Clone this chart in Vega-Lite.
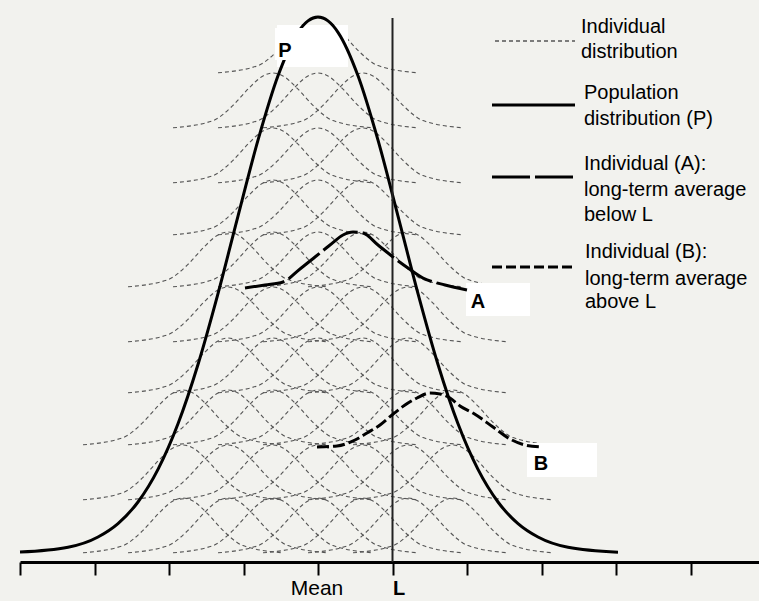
{
  "$schema": "https://vega.github.io/schema/vega-lite/v6.json",
  "width": 739,
  "height": 562,
  "autosize": "none",
  "padding": {"left": 20, "top": 0, "right": 0, "bottom": 39},
  "background": "#f2f2ee",
  "config": {"view": {"stroke": null}, "font": "Liberation Sans"},
  "datasets": {
    "ind": [
      {"g":"0d","x":218,"y":489.2},{"g":"0d","x":258,"y":496.4},{"g":"0d","x":278,"y":511.6},{"g":"0d","x":293,"y":527.9},{"g":"0d","x":308,"y":541},{"g":"0d","x":318,"y":544},{"g":"0d","x":328,"y":541},{"g":"0d","x":343,"y":527.9},{"g":"0d","x":358,"y":511.6},{"g":"0d","x":378,"y":496.4},{"g":"0d","x":418,"y":489.2},

      {"g":"1c","x":173,"y":434.2},{"g":"1c","x":213,"y":441.4},{"g":"1c","x":233,"y":456.6},{"g":"1c","x":248,"y":472.9},{"g":"1c","x":263,"y":486},{"g":"1c","x":273,"y":489},{"g":"1c","x":283,"y":486},{"g":"1c","x":298,"y":472.9},{"g":"1c","x":313,"y":456.6},{"g":"1c","x":333,"y":441.4},{"g":"1c","x":373,"y":434.2},
      {"g":"1d","x":218,"y":434.2},{"g":"1d","x":258,"y":441.4},{"g":"1d","x":278,"y":456.6},{"g":"1d","x":293,"y":472.9},{"g":"1d","x":308,"y":486},{"g":"1d","x":318,"y":489},{"g":"1d","x":328,"y":486},{"g":"1d","x":343,"y":472.9},{"g":"1d","x":358,"y":456.6},{"g":"1d","x":378,"y":441.4},{"g":"1d","x":418,"y":434.2},
      {"g":"1e","x":263,"y":434.2},{"g":"1e","x":303,"y":441.4},{"g":"1e","x":323,"y":456.6},{"g":"1e","x":338,"y":472.9},{"g":"1e","x":353,"y":486},{"g":"1e","x":363,"y":489},{"g":"1e","x":373,"y":486},{"g":"1e","x":388,"y":472.9},{"g":"1e","x":403,"y":456.6},{"g":"1e","x":423,"y":441.4},{"g":"1e","x":463,"y":434.2},

      {"g":"2c","x":173,"y":379.2},{"g":"2c","x":213,"y":386.4},{"g":"2c","x":233,"y":401.6},{"g":"2c","x":248,"y":417.9},{"g":"2c","x":263,"y":431},{"g":"2c","x":273,"y":434},{"g":"2c","x":283,"y":431},{"g":"2c","x":298,"y":417.9},{"g":"2c","x":313,"y":401.6},{"g":"2c","x":333,"y":386.4},{"g":"2c","x":373,"y":379.2},
      {"g":"2d","x":218,"y":379.2},{"g":"2d","x":258,"y":386.4},{"g":"2d","x":278,"y":401.6},{"g":"2d","x":293,"y":417.9},{"g":"2d","x":308,"y":431},{"g":"2d","x":318,"y":434},{"g":"2d","x":328,"y":431},{"g":"2d","x":343,"y":417.9},{"g":"2d","x":358,"y":401.6},{"g":"2d","x":378,"y":386.4},{"g":"2d","x":418,"y":379.2},
      {"g":"2e","x":263,"y":379.2},{"g":"2e","x":303,"y":386.4},{"g":"2e","x":323,"y":401.6},{"g":"2e","x":338,"y":417.9},{"g":"2e","x":353,"y":431},{"g":"2e","x":363,"y":434},{"g":"2e","x":373,"y":431},{"g":"2e","x":388,"y":417.9},{"g":"2e","x":403,"y":401.6},{"g":"2e","x":423,"y":386.4},{"g":"2e","x":463,"y":379.2},

      {"g":"3c","x":173,"y":327.2},{"g":"3c","x":213,"y":334.4},{"g":"3c","x":233,"y":349.6},{"g":"3c","x":248,"y":365.9},{"g":"3c","x":263,"y":379},{"g":"3c","x":273,"y":382},{"g":"3c","x":283,"y":379},{"g":"3c","x":298,"y":365.9},{"g":"3c","x":313,"y":349.6},{"g":"3c","x":333,"y":334.4},{"g":"3c","x":373,"y":327.2},
      {"g":"3d","x":218,"y":327.2},{"g":"3d","x":258,"y":334.4},{"g":"3d","x":278,"y":349.6},{"g":"3d","x":293,"y":365.9},{"g":"3d","x":308,"y":379},{"g":"3d","x":318,"y":382},{"g":"3d","x":328,"y":379},{"g":"3d","x":343,"y":365.9},{"g":"3d","x":358,"y":349.6},{"g":"3d","x":378,"y":334.4},{"g":"3d","x":418,"y":327.2},
      {"g":"3e","x":263,"y":327.2},{"g":"3e","x":303,"y":334.4},{"g":"3e","x":323,"y":349.6},{"g":"3e","x":338,"y":365.9},{"g":"3e","x":353,"y":379},{"g":"3e","x":363,"y":382},{"g":"3e","x":373,"y":379},{"g":"3e","x":388,"y":365.9},{"g":"3e","x":403,"y":349.6},{"g":"3e","x":423,"y":334.4},{"g":"3e","x":463,"y":327.2},

      {"g":"4b","x":128,"y":275.2},{"g":"4b","x":168,"y":282.4},{"g":"4b","x":188,"y":297.6},{"g":"4b","x":203,"y":313.9},{"g":"4b","x":218,"y":327},{"g":"4b","x":228,"y":330},{"g":"4b","x":238,"y":327},{"g":"4b","x":253,"y":313.9},{"g":"4b","x":268,"y":297.6},{"g":"4b","x":288,"y":282.4},{"g":"4b","x":328,"y":275.2},
      {"g":"4c","x":173,"y":275.2},{"g":"4c","x":213,"y":282.4},{"g":"4c","x":233,"y":297.6},{"g":"4c","x":248,"y":313.9},{"g":"4c","x":263,"y":327},{"g":"4c","x":273,"y":330},{"g":"4c","x":283,"y":327},{"g":"4c","x":298,"y":313.9},{"g":"4c","x":313,"y":297.6},{"g":"4c","x":333,"y":282.4},{"g":"4c","x":373,"y":275.2},
      {"g":"4d","x":218,"y":275.2},{"g":"4d","x":258,"y":282.4},{"g":"4d","x":278,"y":297.6},{"g":"4d","x":293,"y":313.9},{"g":"4d","x":308,"y":327},{"g":"4d","x":318,"y":330},{"g":"4d","x":328,"y":327},{"g":"4d","x":343,"y":313.9},{"g":"4d","x":358,"y":297.6},{"g":"4d","x":378,"y":282.4},{"g":"4d","x":418,"y":275.2},
      {"g":"4e","x":263,"y":275.2},{"g":"4e","x":303,"y":282.4},{"g":"4e","x":323,"y":297.6},{"g":"4e","x":338,"y":313.9},{"g":"4e","x":353,"y":327},{"g":"4e","x":363,"y":330},{"g":"4e","x":373,"y":327},{"g":"4e","x":388,"y":313.9},{"g":"4e","x":403,"y":297.6},{"g":"4e","x":423,"y":282.4},{"g":"4e","x":463,"y":275.2},
      {"g":"4f","x":308,"y":275.2},{"g":"4f","x":348,"y":282.4},{"g":"4f","x":368,"y":297.6},{"g":"4f","x":383,"y":313.9},{"g":"4f","x":398,"y":327},{"g":"4f","x":408,"y":330},{"g":"4f","x":418,"y":327},{"g":"4f","x":433,"y":313.9},{"g":"4f","x":448,"y":297.6},{"g":"4f","x":468,"y":282.4},{"g":"4f","x":508,"y":275.2},

      {"g":"5b","x":128,"y":220.2},{"g":"5b","x":168,"y":227.4},{"g":"5b","x":188,"y":242.6},{"g":"5b","x":203,"y":258.9},{"g":"5b","x":218,"y":272},{"g":"5b","x":228,"y":275},{"g":"5b","x":238,"y":272},{"g":"5b","x":253,"y":258.9},{"g":"5b","x":268,"y":242.6},{"g":"5b","x":288,"y":227.4},{"g":"5b","x":328,"y":220.2},
      {"g":"5c","x":173,"y":220.2},{"g":"5c","x":213,"y":227.4},{"g":"5c","x":233,"y":242.6},{"g":"5c","x":248,"y":258.9},{"g":"5c","x":263,"y":272},{"g":"5c","x":273,"y":275},{"g":"5c","x":283,"y":272},{"g":"5c","x":298,"y":258.9},{"g":"5c","x":313,"y":242.6},{"g":"5c","x":333,"y":227.4},{"g":"5c","x":373,"y":220.2},
      {"g":"5d","x":218,"y":220.2},{"g":"5d","x":258,"y":227.4},{"g":"5d","x":278,"y":242.6},{"g":"5d","x":293,"y":258.9},{"g":"5d","x":308,"y":272},{"g":"5d","x":318,"y":275},{"g":"5d","x":328,"y":272},{"g":"5d","x":343,"y":258.9},{"g":"5d","x":358,"y":242.6},{"g":"5d","x":378,"y":227.4},{"g":"5d","x":418,"y":220.2},
      {"g":"5e","x":263,"y":220.2},{"g":"5e","x":303,"y":227.4},{"g":"5e","x":323,"y":242.6},{"g":"5e","x":338,"y":258.9},{"g":"5e","x":353,"y":272},{"g":"5e","x":363,"y":275},{"g":"5e","x":373,"y":272},{"g":"5e","x":388,"y":258.9},{"g":"5e","x":403,"y":242.6},{"g":"5e","x":423,"y":227.4},{"g":"5e","x":463,"y":220.2},
      {"g":"5f","x":308,"y":220.2},{"g":"5f","x":348,"y":227.4},{"g":"5f","x":368,"y":242.6},{"g":"5f","x":383,"y":258.9},{"g":"5f","x":398,"y":272},{"g":"5f","x":408,"y":275},{"g":"5f","x":418,"y":272},{"g":"5f","x":433,"y":258.9},{"g":"5f","x":448,"y":242.6},{"g":"5f","x":468,"y":227.4},{"g":"5f","x":508,"y":220.2},

      {"g":"6b","x":128,"y":169.2},{"g":"6b","x":168,"y":176.4},{"g":"6b","x":188,"y":191.6},{"g":"6b","x":203,"y":207.9},{"g":"6b","x":218,"y":221},{"g":"6b","x":228,"y":224},{"g":"6b","x":238,"y":221},{"g":"6b","x":253,"y":207.9},{"g":"6b","x":268,"y":191.6},{"g":"6b","x":288,"y":176.4},{"g":"6b","x":328,"y":169.2},
      {"g":"6c","x":173,"y":169.2},{"g":"6c","x":213,"y":176.4},{"g":"6c","x":233,"y":191.6},{"g":"6c","x":248,"y":207.9},{"g":"6c","x":263,"y":221},{"g":"6c","x":273,"y":224},{"g":"6c","x":283,"y":221},{"g":"6c","x":298,"y":207.9},{"g":"6c","x":313,"y":191.6},{"g":"6c","x":333,"y":176.4},{"g":"6c","x":373,"y":169.2},
      {"g":"6d","x":218,"y":169.2},{"g":"6d","x":258,"y":176.4},{"g":"6d","x":278,"y":191.6},{"g":"6d","x":293,"y":207.9},{"g":"6d","x":308,"y":221},{"g":"6d","x":318,"y":224},{"g":"6d","x":328,"y":221},{"g":"6d","x":343,"y":207.9},{"g":"6d","x":358,"y":191.6},{"g":"6d","x":378,"y":176.4},{"g":"6d","x":418,"y":169.2},
      {"g":"6e","x":263,"y":169.2},{"g":"6e","x":303,"y":176.4},{"g":"6e","x":323,"y":191.6},{"g":"6e","x":338,"y":207.9},{"g":"6e","x":353,"y":221},{"g":"6e","x":363,"y":224},{"g":"6e","x":373,"y":221},{"g":"6e","x":388,"y":207.9},{"g":"6e","x":403,"y":191.6},{"g":"6e","x":423,"y":176.4},{"g":"6e","x":463,"y":169.2},
      {"g":"6f","x":308,"y":169.2},{"g":"6f","x":348,"y":176.4},{"g":"6f","x":368,"y":191.6},{"g":"6f","x":383,"y":207.9},{"g":"6f","x":398,"y":221},{"g":"6f","x":408,"y":224},{"g":"6f","x":418,"y":221},{"g":"6f","x":433,"y":207.9},{"g":"6f","x":448,"y":191.6},{"g":"6f","x":468,"y":176.4},{"g":"6f","x":508,"y":169.2},

      {"g":"7a","x":83,"y":117.2},{"g":"7a","x":123,"y":124.4},{"g":"7a","x":143,"y":139.6},{"g":"7a","x":158,"y":155.9},{"g":"7a","x":173,"y":169},{"g":"7a","x":183,"y":172},{"g":"7a","x":193,"y":169},{"g":"7a","x":208,"y":155.9},{"g":"7a","x":223,"y":139.6},{"g":"7a","x":243,"y":124.4},{"g":"7a","x":283,"y":117.2},
      {"g":"7b","x":128,"y":117.2},{"g":"7b","x":168,"y":124.4},{"g":"7b","x":188,"y":139.6},{"g":"7b","x":203,"y":155.9},{"g":"7b","x":218,"y":169},{"g":"7b","x":228,"y":172},{"g":"7b","x":238,"y":169},{"g":"7b","x":253,"y":155.9},{"g":"7b","x":268,"y":139.6},{"g":"7b","x":288,"y":124.4},{"g":"7b","x":328,"y":117.2},
      {"g":"7c","x":173,"y":117.2},{"g":"7c","x":213,"y":124.4},{"g":"7c","x":233,"y":139.6},{"g":"7c","x":248,"y":155.9},{"g":"7c","x":263,"y":169},{"g":"7c","x":273,"y":172},{"g":"7c","x":283,"y":169},{"g":"7c","x":298,"y":155.9},{"g":"7c","x":313,"y":139.6},{"g":"7c","x":333,"y":124.4},{"g":"7c","x":373,"y":117.2},
      {"g":"7d","x":218,"y":117.2},{"g":"7d","x":258,"y":124.4},{"g":"7d","x":278,"y":139.6},{"g":"7d","x":293,"y":155.9},{"g":"7d","x":308,"y":169},{"g":"7d","x":318,"y":172},{"g":"7d","x":328,"y":169},{"g":"7d","x":343,"y":155.9},{"g":"7d","x":358,"y":139.6},{"g":"7d","x":378,"y":124.4},{"g":"7d","x":418,"y":117.2},
      {"g":"7e","x":263,"y":117.2},{"g":"7e","x":303,"y":124.4},{"g":"7e","x":323,"y":139.6},{"g":"7e","x":338,"y":155.9},{"g":"7e","x":353,"y":169},{"g":"7e","x":363,"y":172},{"g":"7e","x":373,"y":169},{"g":"7e","x":388,"y":155.9},{"g":"7e","x":403,"y":139.6},{"g":"7e","x":423,"y":124.4},{"g":"7e","x":463,"y":117.2},
      {"g":"7f","x":308,"y":117.2},{"g":"7f","x":348,"y":124.4},{"g":"7f","x":368,"y":139.6},{"g":"7f","x":383,"y":155.9},{"g":"7f","x":398,"y":169},{"g":"7f","x":408,"y":172},{"g":"7f","x":418,"y":169},{"g":"7f","x":433,"y":155.9},{"g":"7f","x":448,"y":139.6},{"g":"7f","x":468,"y":124.4},{"g":"7f","x":508,"y":117.2},
      {"g":"7g","x":353,"y":117.2},{"g":"7g","x":393,"y":124.4},{"g":"7g","x":413,"y":139.6},{"g":"7g","x":428,"y":155.9},{"g":"7g","x":443,"y":169},{"g":"7g","x":453,"y":172},{"g":"7g","x":463,"y":169},{"g":"7g","x":478,"y":155.9},{"g":"7g","x":493,"y":139.6},{"g":"7g","x":513,"y":124.4},{"g":"7g","x":553,"y":117.2},

      {"g":"8a","x":83,"y":62.2},{"g":"8a","x":123,"y":69.4},{"g":"8a","x":143,"y":84.6},{"g":"8a","x":158,"y":100.9},{"g":"8a","x":173,"y":114},{"g":"8a","x":183,"y":117},{"g":"8a","x":193,"y":114},{"g":"8a","x":208,"y":100.9},{"g":"8a","x":223,"y":84.6},{"g":"8a","x":243,"y":69.4},{"g":"8a","x":283,"y":62.2},
      {"g":"8b","x":128,"y":62.2},{"g":"8b","x":168,"y":69.4},{"g":"8b","x":188,"y":84.6},{"g":"8b","x":203,"y":100.9},{"g":"8b","x":218,"y":114},{"g":"8b","x":228,"y":117},{"g":"8b","x":238,"y":114},{"g":"8b","x":253,"y":100.9},{"g":"8b","x":268,"y":84.6},{"g":"8b","x":288,"y":69.4},{"g":"8b","x":328,"y":62.2},
      {"g":"8c","x":173,"y":62.2},{"g":"8c","x":213,"y":69.4},{"g":"8c","x":233,"y":84.6},{"g":"8c","x":248,"y":100.9},{"g":"8c","x":263,"y":114},{"g":"8c","x":273,"y":117},{"g":"8c","x":283,"y":114},{"g":"8c","x":298,"y":100.9},{"g":"8c","x":313,"y":84.6},{"g":"8c","x":333,"y":69.4},{"g":"8c","x":373,"y":62.2},
      {"g":"8d","x":218,"y":62.2},{"g":"8d","x":258,"y":69.4},{"g":"8d","x":278,"y":84.6},{"g":"8d","x":293,"y":100.9},{"g":"8d","x":308,"y":114},{"g":"8d","x":318,"y":117},{"g":"8d","x":328,"y":114},{"g":"8d","x":343,"y":100.9},{"g":"8d","x":358,"y":84.6},{"g":"8d","x":378,"y":69.4},{"g":"8d","x":418,"y":62.2},
      {"g":"8e","x":263,"y":62.2},{"g":"8e","x":303,"y":69.4},{"g":"8e","x":323,"y":84.6},{"g":"8e","x":338,"y":100.9},{"g":"8e","x":353,"y":114},{"g":"8e","x":363,"y":117},{"g":"8e","x":373,"y":114},{"g":"8e","x":388,"y":100.9},{"g":"8e","x":403,"y":84.6},{"g":"8e","x":423,"y":69.4},{"g":"8e","x":463,"y":62.2},
      {"g":"8f","x":308,"y":62.2},{"g":"8f","x":348,"y":69.4},{"g":"8f","x":368,"y":84.6},{"g":"8f","x":383,"y":100.9},{"g":"8f","x":398,"y":114},{"g":"8f","x":408,"y":117},{"g":"8f","x":418,"y":114},{"g":"8f","x":433,"y":100.9},{"g":"8f","x":448,"y":84.6},{"g":"8f","x":468,"y":69.4},{"g":"8f","x":508,"y":62.2},
      {"g":"8g","x":353,"y":62.2},{"g":"8g","x":393,"y":69.4},{"g":"8g","x":413,"y":84.6},{"g":"8g","x":428,"y":100.9},{"g":"8g","x":443,"y":114},{"g":"8g","x":453,"y":117},{"g":"8g","x":463,"y":114},{"g":"8g","x":478,"y":100.9},{"g":"8g","x":493,"y":84.6},{"g":"8g","x":513,"y":69.4},{"g":"8g","x":553,"y":62.2},

      {"g":"9a","x":83,"y":9.2},{"g":"9a","x":123,"y":16.4},{"g":"9a","x":143,"y":31.6},{"g":"9a","x":158,"y":47.9},{"g":"9a","x":173,"y":61},{"g":"9a","x":183,"y":64},{"g":"9a","x":193,"y":61},{"g":"9a","x":208,"y":47.9},{"g":"9a","x":223,"y":31.6},{"g":"9a","x":243,"y":16.4},{"g":"9a","x":283,"y":9.2},
      {"g":"9b","x":128,"y":9.2},{"g":"9b","x":168,"y":16.4},{"g":"9b","x":188,"y":31.6},{"g":"9b","x":203,"y":47.9},{"g":"9b","x":218,"y":61},{"g":"9b","x":228,"y":64},{"g":"9b","x":238,"y":61},{"g":"9b","x":253,"y":47.9},{"g":"9b","x":268,"y":31.6},{"g":"9b","x":288,"y":16.4},{"g":"9b","x":328,"y":9.2},
      {"g":"9c","x":173,"y":9.2},{"g":"9c","x":213,"y":16.4},{"g":"9c","x":233,"y":31.6},{"g":"9c","x":248,"y":47.9},{"g":"9c","x":263,"y":61},{"g":"9c","x":273,"y":64},{"g":"9c","x":283,"y":61},{"g":"9c","x":298,"y":47.9},{"g":"9c","x":313,"y":31.6},{"g":"9c","x":333,"y":16.4},{"g":"9c","x":373,"y":9.2},
      {"g":"9d","x":218,"y":9.2},{"g":"9d","x":258,"y":16.4},{"g":"9d","x":278,"y":31.6},{"g":"9d","x":293,"y":47.9},{"g":"9d","x":308,"y":61},{"g":"9d","x":318,"y":64},{"g":"9d","x":328,"y":61},{"g":"9d","x":343,"y":47.9},{"g":"9d","x":358,"y":31.6},{"g":"9d","x":378,"y":16.4},{"g":"9d","x":418,"y":9.2},
      {"g":"9e","x":263,"y":9.2},{"g":"9e","x":303,"y":16.4},{"g":"9e","x":323,"y":31.6},{"g":"9e","x":338,"y":47.9},{"g":"9e","x":353,"y":61},{"g":"9e","x":363,"y":64},{"g":"9e","x":373,"y":61},{"g":"9e","x":388,"y":47.9},{"g":"9e","x":403,"y":31.6},{"g":"9e","x":423,"y":16.4},{"g":"9e","x":463,"y":9.2},
      {"g":"9f","x":308,"y":9.2},{"g":"9f","x":348,"y":16.4},{"g":"9f","x":368,"y":31.6},{"g":"9f","x":383,"y":47.9},{"g":"9f","x":398,"y":61},{"g":"9f","x":408,"y":64},{"g":"9f","x":418,"y":61},{"g":"9f","x":433,"y":47.9},{"g":"9f","x":448,"y":31.6},{"g":"9f","x":468,"y":16.4},{"g":"9f","x":508,"y":9.2},
      {"g":"9g","x":353,"y":9.2},{"g":"9g","x":393,"y":16.4},{"g":"9g","x":413,"y":31.6},{"g":"9g","x":428,"y":47.9},{"g":"9g","x":443,"y":61},{"g":"9g","x":453,"y":64},{"g":"9g","x":463,"y":61},{"g":"9g","x":478,"y":47.9},{"g":"9g","x":493,"y":31.6},{"g":"9g","x":513,"y":16.4},{"g":"9g","x":553,"y":9.2}
    ],
    "pop": [
      {"x":20,"y":9.9},{"x":68,"y":14.7},{"x":98,"y":25.0},{"x":118,"y":38.4},{"x":138,"y":60.0},{"x":158,"y":92.6},{"x":178,"y":138.2},{"x":198,"y":197.5},{"x":218,"y":268.4},{"x":238,"y":345.9},{"x":258,"y":421.8},{"x":278,"y":486.2},{"x":298,"y":529.7},{"x":308,"y":541.1},{"x":318,"y":545},{"x":328,"y":541.1},{"x":338,"y":529.7},{"x":358,"y":486.2},{"x":378,"y":421.8},{"x":398,"y":345.9},{"x":418,"y":268.4},{"x":438,"y":197.5},{"x":458,"y":138.2},{"x":478,"y":92.6},{"x":498,"y":60.0},{"x":518,"y":38.4},{"x":538,"y":25.0},{"x":568,"y":14.7},{"x":618,"y":9.8}
    ],
    "indA": [
      {"x":245,"y":274},{"x":265,"y":277},{"x":283,"y":280},{"x":300,"y":293},{"x":315,"y":305},{"x":330,"y":317},{"x":343,"y":327},{"x":353,"y":330},{"x":363,"y":329},{"x":378,"y":317},{"x":393,"y":305},{"x":408,"y":294},{"x":423,"y":284},{"x":445,"y":277},{"x":467,"y":272}
    ],
    "indB": [
      {"x":317,"y":115},{"x":337,"y":116},{"x":355,"y":122},{"x":367,"y":129},{"x":380,"y":137},{"x":392,"y":147},{"x":405,"y":157},{"x":417,"y":164},{"x":430,"y":169},{"x":440,"y":168},{"x":450,"y":164},{"x":460,"y":156},{"x":473,"y":149},{"x":493,"y":135},{"x":510,"y":123},{"x":525,"y":117},{"x":542,"y":115}
    ],
    "boxes": [
      {"x":466,"x2":530,"y":246,"y2":279},
      {"x":527,"x2":597,"y":85,"y2":119},
      {"x":277,"x2":348,"y":495,"y2":537}
    ]
  },
  "encoding": {
    "x": {
      "field": "x", "type": "quantitative",
      "scale": {"domain": [20, 759], "nice": false, "zero": false},
      "axis": {"values": [20, 94.5, 169, 243.5, 318, 392.5, 467, 541.5, 616, 690.5], "labels": false, "title": null, "grid": false, "domainColor": "#000", "domainWidth": 3, "tickColor": "#000", "tickWidth": 2, "tickSize": 13}
    },
    "y": {"field": "y", "type": "quantitative", "scale": {"domain": [0, 562], "nice": false, "zero": false}, "axis": null}
  },
  "layer": [
    {
      "data": {"name": "ind"},
      "mark": {"type": "line", "interpolate": "monotone", "color": "#555555", "strokeWidth": 1.1, "strokeDash": [4, 3]},
      "encoding": {"detail": {"field": "g"}}
    },
    {
      "data": {"name": "boxes"},
      "mark": {"type": "rect", "color": "#ffffff"},
      "encoding": {"x2": {"field": "x2"}, "y2": {"field": "y2"}}
    },
    {
      "data": {"name": "pop"},
      "mark": {"type": "line", "interpolate": "monotone", "color": "#000000", "strokeWidth": 3}
    },
    {
      "data": {"values": [{"x": 275, "x2": 304, "y": 502, "y2": 534}]},
      "mark": {"type": "rect", "color": "#ffffff"},
      "encoding": {"x2": {"field": "x2"}, "y2": {"field": "y2"}}
    },
    {
      "data": {"values": [{"x": 392.5, "y": 0, "y2": 544}]},
      "mark": {"type": "rule", "color": "#222222", "strokeWidth": 2},
      "encoding": {"y2": {"field": "y2"}}
    },
    {
      "data": {"name": "indA"},
      "mark": {"type": "line", "interpolate": "monotone", "color": "#000000", "strokeWidth": 3, "strokeDash": [40, 5]}
    },
    {
      "data": {"name": "indB"},
      "mark": {"type": "line", "interpolate": "monotone", "color": "#000000", "strokeWidth": 3, "strokeDash": [12, 4]}
    },
    {
      "data": {"values": [{"x": 495, "x2": 575, "y": 521}]},
      "mark": {"type": "rule", "color": "#555555", "strokeWidth": 1.5, "strokeDash": [4, 3]},
      "encoding": {"x2": {"field": "x2"}}
    },
    {
      "data": {"values": [{"x": 492, "x2": 575, "y": 457}]},
      "mark": {"type": "rule", "color": "#000000", "strokeWidth": 3},
      "encoding": {"x2": {"field": "x2"}}
    },
    {
      "data": {"values": [{"x": 492, "x2": 575, "y": 385}]},
      "mark": {"type": "rule", "color": "#000000", "strokeWidth": 3, "strokeDash": [38, 5]},
      "encoding": {"x2": {"field": "x2"}}
    },
    {
      "data": {"values": [{"x": 492, "x2": 575, "y": 295}]},
      "mark": {"type": "rule", "color": "#000000", "strokeWidth": 3, "strokeDash": [10, 4]},
      "encoding": {"x2": {"field": "x2"}}
    },
    {
      "data": {"values": [
        {"t": "Individual", "x": 581, "y": 529},
        {"t": "distribution", "x": 581, "y": 504},
        {"t": "Population", "x": 584, "y": 463},
        {"t": "distribution (P)", "x": 584, "y": 437},
        {"t": "Individual (A):", "x": 584, "y": 392},
        {"t": "long-term average", "x": 584, "y": 366},
        {"t": "below L", "x": 584, "y": 341},
        {"t": "Individual (B):", "x": 585, "y": 304},
        {"t": "long-term average", "x": 585, "y": 277},
        {"t": "above L", "x": 585, "y": 254}
      ]},
      "mark": {"type": "text", "align": "left", "baseline": "alphabetic", "fontSize": 20, "color": "#000000", "font": "Liberation Sans"},
      "encoding": {"text": {"field": "t"}}
    },
    {
      "data": {"values": [
        {"t": "P", "x": 285, "y": 505},
        {"t": "A", "x": 478, "y": 254},
        {"t": "B", "x": 541, "y": 92}
      ]},
      "mark": {"type": "text", "align": "center", "baseline": "alphabetic", "fontSize": 20, "fontWeight": "bold", "color": "#000000", "font": "Liberation Sans"},
      "encoding": {"text": {"field": "t"}}
    },
    {
      "data": {"values": [{"t": "Mean", "x": 317, "y": -33}]},
      "mark": {"type": "text", "align": "center", "baseline": "alphabetic", "fontSize": 21, "color": "#000000", "font": "Liberation Sans"},
      "encoding": {"text": {"field": "t"}}
    },
    {
      "data": {"values": [{"t": "L", "x": 399, "y": -33}]},
      "mark": {"type": "text", "align": "center", "baseline": "alphabetic", "fontSize": 20, "fontWeight": "bold", "color": "#000000", "font": "Liberation Sans"},
      "encoding": {"text": {"field": "t"}}
    }
  ]
}
